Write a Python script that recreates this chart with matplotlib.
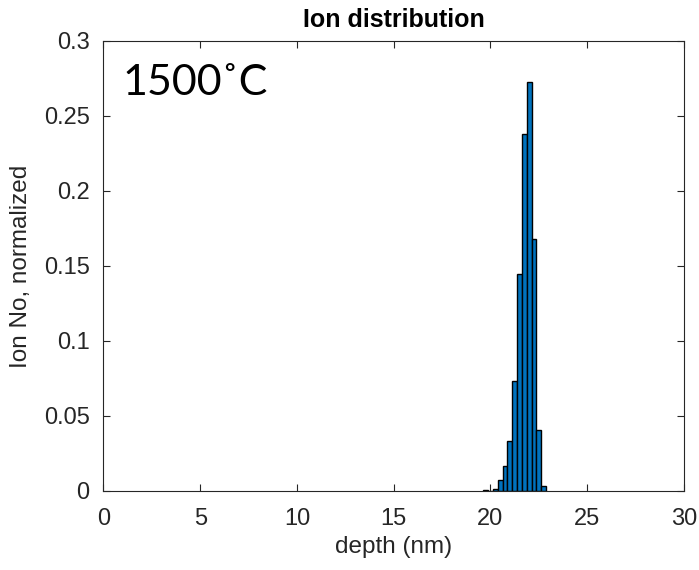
import numpy as np
import matplotlib.pyplot as plt

# データ (ヒストグラムの各ビン)
bin_centers = [19.75, 20.0, 20.25, 20.5, 20.75, 21.0, 21.25, 21.5, 21.75, 22.0, 22.25, 22.5, 22.75]
ion_counts = [0.0004, 0.0, 0.0016, 0.007, 0.0167, 0.033, 0.073, 0.1445, 0.238, 0.2725, 0.168, 0.0407, 0.0033]
bin_width = 0.25

xticks = [0, 5, 10, 15, 20, 25, 30]
yticks = [0, 0.05, 0.1, 0.15, 0.2, 0.25, 0.3]

plt.rcParams['font.family'] = ['Liberation Sans', 'DejaVu Sans']

fig = plt.figure(figsize=(6.99, 5.70), dpi=100)
ax = fig.add_axes([0.148, 0.1386, 0.8305, 0.7895])

ax.bar(bin_centers, ion_counts, width=bin_width, color="#0072BD",
       edgecolor="black", linewidth=1.0)

ax.set_xlim(0, 30)
ax.set_ylim(0, 0.3)
ax.set_xticks(xticks)
ax.set_xticklabels([str(t) for t in xticks])
ax.set_yticks(yticks)
ax.set_yticklabels(["0", "0.05", "0.1", "0.15", "0.2", "0.25", "0.3"])

gray = "#262626"
ax.tick_params(direction="in", length=5, width=0.8, top=True, right=True,
               labelsize=17, colors=gray, labelcolor=gray)
ax.tick_params(axis="x", pad=12)
ax.tick_params(axis="y", pad=10)
for spine in ax.spines.values():
    spine.set_color(gray)
    spine.set_linewidth(0.8)

ax.set_title("Ion distribution", fontsize=18, fontweight="bold", color="black", pad=10)
ax.set_xlabel("depth (nm)", fontsize=17.5, color=gray)
ax.set_ylabel("Ion No, normalized", fontsize=17.5, color=gray)
ax.xaxis.set_label_coords(0.5, -0.1)
ax.yaxis.set_label_coords(-0.123, 0.5)

ax.text(0.032, 0.88, "1500\u02daC", transform=ax.transAxes, fontsize=31,
        family=["Lato", "DejaVu Sans"], va="baseline", ha="left", color="black")

plt.savefig("out.png", dpi=100)
plt.close()
